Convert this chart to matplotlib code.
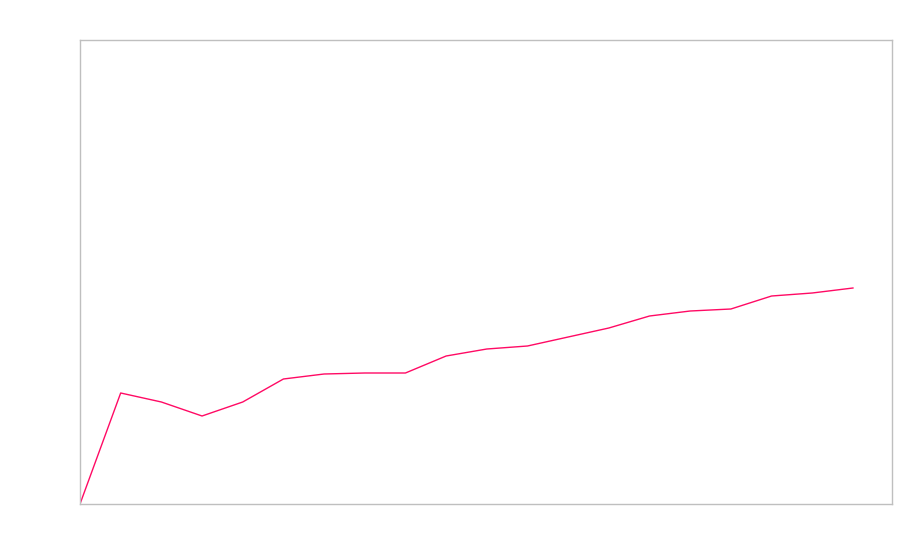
import matplotlib
matplotlib.use("Agg")
import matplotlib.pyplot as plt

x_index = list(range(20))
values = [0, 111, 102, 88, 102, 125, 130, 131, 131, 148, 155, 158, 167, 176, 188, 193, 195, 208, 211, 216]

fig = plt.figure(figsize=(9, 5.6), dpi=100)
ax = fig.add_axes([80/900, 1 - 504/560, 812/900, 464/560])
ax.plot(x_index, values, color="#ff0a64", linewidth=1.0)
ax.set_xlim(0, 19.96)
ax.set_ylim(0, 464)
ax.set_xticks([])
ax.set_yticks([])
for s in ax.spines.values():
    s.set_color("#bfbfbf")
    s.set_linewidth(1.0)
fig.savefig("out.png", dpi=100)
